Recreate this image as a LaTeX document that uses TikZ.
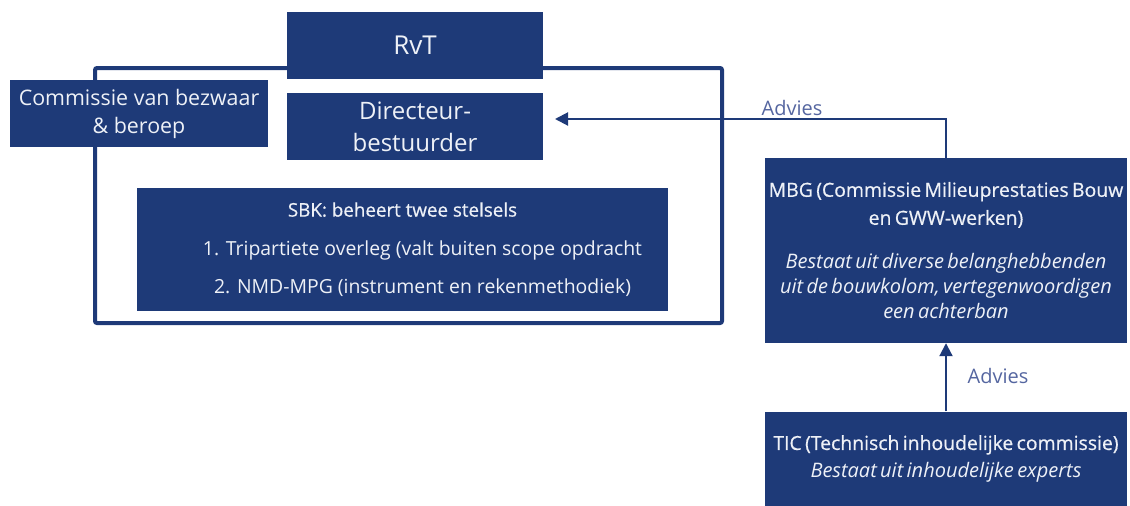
\documentclass[tikz,border=0pt]{standalone}
\usepackage{fontspec}
\setmainfont{Open Sans}
\newfontfamily\semib[FakeBold=0.6]{Open Sans}
\usetikzlibrary{arrows.meta}
\definecolor{navy}{HTML}{1E3A78}
\definecolor{boxtext}{HTML}{EEF1F7}
\definecolor{advies}{HTML}{5566A0}
\begin{document}
\begin{tikzpicture}[x=1pt,y=-1pt,
  box/.style={fill=navy, draw=none, text=boxtext, align=center, inner sep=0pt},
  frameline/.style={draw=navy, line width=4pt, rounded corners=2pt},
  link/.style={draw=navy, line width=2pt, -{Triangle[length=13pt,width=13pt]}},
  lbl/.style={text=advies, font=\fontsize{20}{24}\selectfont, inner sep=0pt}]
\useasboundingbox (0,0) rectangle (1130,506);
\draw[frameline] (95,68) rectangle (722,323);
\node[box, minimum width=256pt, minimum height=67pt, font=\fontsize{26}{32}\selectfont] (rvt) at (415,45) {RvT};
\node[box, minimum width=258pt, minimum height=67pt, font=\fontsize{21.4}{28}\selectfont] (com) at (139,113.5) {Commissie van bezwaar\\\& beroep};
\node[box, minimum width=256pt, minimum height=67pt, font=\fontsize{24}{32}\selectfont] (dir) at (415,126.5) {Directeur-\\bestuurder};
\node[box, minimum width=531pt, minimum height=123pt, font=\fontsize{19.4}{38.5}\selectfont] (sbk) at (402.5,249.5)
  {{\semib\fontsize{18.8}{38.5}\selectfont SBK: beheert twee stelsels}\\\hspace*{40pt}1. Tripartiete overleg (valt buiten scope opdracht\\\hspace*{40pt}2. NMD-MPG (instrument en rekenmethodiek)};
\node[box, minimum width=362pt, minimum height=185pt, text width=360pt] (mbg) at (946,250.5)
  {\semib\fontsize{19.4}{28}\selectfont MBG (Commissie Milieuprestaties Bouw\\en GWW-werken)\par\vspace{19pt}
   \normalfont\fontsize{20}{25}\selectfont\itshape Bestaat uit diverse belanghebbenden\\uit de bouwkolom, vertegenwoordigen\\een achterban\par};
\node[box, minimum width=362pt, minimum height=95pt, text width=360pt] (tic) at (946,459)
  {{\semib\fontsize{19.4}{28}\selectfont TIC (Technisch inhoudelijke commissie)\par}\fontsize{20}{28}\selectfont\itshape Bestaat uit inhoudelijke experts\par};
\coordinate (advtip) at (555,119);
\draw[link] (mbg.north) |- (advtip);
\draw[link] (tic.north) -- (mbg.south);
\node[lbl] (adv1) at (792,108) {Advies};
\node[lbl] (adv2) at (998,376) {Advies};
\end{tikzpicture}
\end{document}
